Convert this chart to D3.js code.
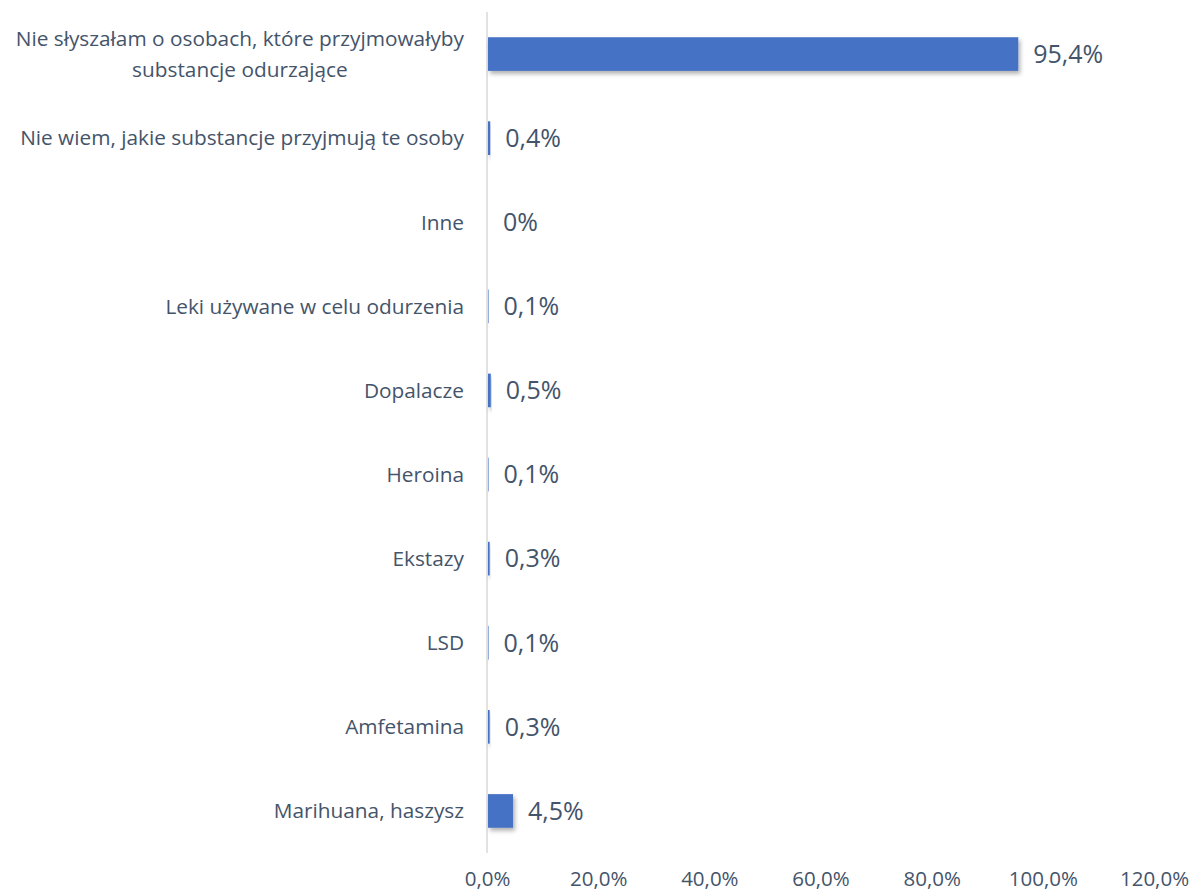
<!DOCTYPE html>
<html>
<head>
<meta charset="utf-8">
<script src="https://cdn.jsdelivr.net/npm/d3@7"></script>
<style>
  body { margin: 0; background: #fff; }
  svg { font-family: "Open Sans", sans-serif; }
</style>
</head>
<body>
<svg width="1197" height="894"></svg>
<script>
var categories = [
    'Nie słyszałam o osobach, które przyjmowałyby|substancje odurzające',
    'Nie wiem, jakie substancje przyjmują te osoby',
    'Inne',
    'Leki używane w celu odurzenia',
    'Dopalacze',
    'Heroina',
    'Ekstazy',
    'LSD',
    'Amfetamina',
    'Marihuana, haszysz'
];
var values = [95.4, 0.4, 0, 0.1, 0.5, 0.1, 0.3, 0.1, 0.3, 4.5];
var xTicks = [0, 20, 40, 60, 80, 100, 120];

var svg = d3.select('svg');
var textColor = '#44546A';
var catSize = 20.8;

// drop shadow like the office chart
var defs = svg.append('defs');
defs.append('filter')
    .attr('id', 'shadow')
    .attr('x', '-20%').attr('y', '-20%')
    .attr('width', '140%').attr('height', '160%')
    .append('feDropShadow')
    .attr('dx', 2).attr('dy', 3)
    .attr('stdDeviation', 2)
    .attr('flood-color', '#000')
    .attr('flood-opacity', 0.3);

var scaleX = d3.scaleLinear().domain([0, 120]).range([487, 1154]);
var scaleY = d3.scaleBand().domain(categories).range([12, 853]).paddingInner(0.6).paddingOuter(0.3);

function tickFmt(v) {
    return d3.format('.1f')(v).replace('.', ',') + '%';
}
function valFmt(v) {
    if (v === 0) return '0%';
    return tickFmt(v);
}

// x axis (labels only)
var xAxis = svg.append('g')
    .attr('transform', 'translate(0,867)')
    .call(d3.axisBottom(scaleX).tickValues(xTicks).tickSize(0).tickPadding(4).tickFormat(tickFmt));
xAxis.select('.domain').remove();
xAxis.selectAll('text')
    .attr('font-size', 20.5)
    .attr('font-family', '"Open Sans", sans-serif')
    .attr('fill', textColor);

// vertical category axis line
svg.append('line')
    .attr('x1', scaleX(0)).attr('x2', scaleX(0))
    .attr('y1', 12).attr('y2', 853)
    .attr('stroke', '#D9D9D9')
    .attr('stroke-width', 1.5);

// category labels
svg.selectAll('.cat')
    .data(categories)
    .enter()
    .append('text')
    .attr('class', 'cat')
    .attr('font-size', catSize)
    .attr('fill', textColor)
    .each(function(d) {
        var lines = d.split('|');
        var t = d3.select(this);
        var cy = scaleY(d) + scaleY.bandwidth() / 2;
        if (lines.length === 1) {
            t.attr('x', 464).attr('y', cy).attr('dy', '0.35em')
                .attr('text-anchor', 'end').text(d);
        } else {
            // multi-line: lines centered among themselves, block right aligned
            var tmp = svg.append('text').attr('font-size', catSize).text(lines[0]);
            var w = tmp.node().getComputedTextLength();
            tmp.remove();
            var mid = 464 - w / 2;
            lines.forEach(function(l, i) {
                t.append('tspan')
                    .attr('x', mid)
                    .attr('y', cy + (i - (lines.length - 1) / 2) * 31)
                    .attr('dy', '0.35em')
                    .attr('text-anchor', 'middle')
                    .text(l);
            });
        }
    });

// bars
svg.selectAll('rect.bar')
    .data(values)
    .enter()
    .append('rect')
    .attr('class', 'bar')
    .attr('x', scaleX(0) + 1)
    .attr('y', function(d, i) { return scaleY(categories[i]); })
    .attr('width', function(d) { return Math.max(0, scaleX(d) - scaleX(0)); })
    .attr('height', scaleY.bandwidth())
    .attr('fill', '#4472C4')
    .attr('filter', 'url(#shadow)');

// value labels
svg.selectAll('.val')
    .data(values)
    .enter()
    .append('text')
    .attr('class', 'val')
    .attr('x', function(d) { return scaleX(d) + 16; })
    .attr('y', function(d, i) { return scaleY(categories[i]) + scaleY.bandwidth() / 2; })
    .attr('dy', '0.35em')
    .attr('font-size', 25)
    .attr('fill', textColor)
    .text(valFmt);
</script>
</body>
</html>
